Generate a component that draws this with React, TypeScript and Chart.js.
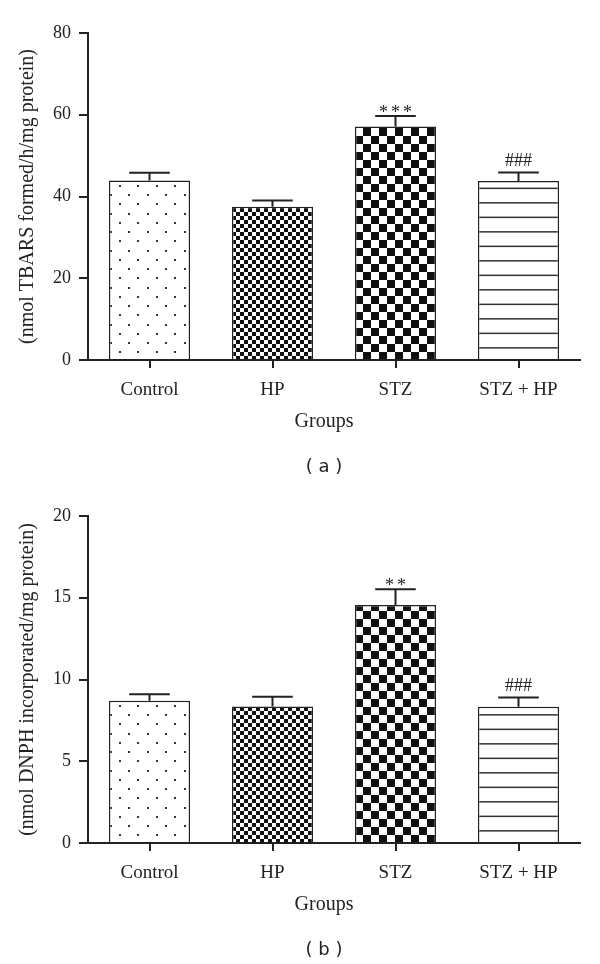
import React, { useEffect, useRef } from "react";
import { Chart, registerables } from "chart.js";

Chart.register(...registerables);

// ---------- data ----------
const groups = ["Control", "HP", "STZ", "STZ + HP"];

const tbarsMeans = [43.9, 37.5, 57.1, 43.8];
const tbarsErrors = [1.9, 1.5, 2.6, 2.1];
const tbarsMarks = ["", "", "***", "###"];
const tbarsMax = 80;
const tbarsStep = 20;

const dnphMeans = [8.7, 8.35, 14.55, 8.33];
const dnphErrors = [0.4, 0.6, 0.97, 0.57];
const dnphMarks = ["", "", "**", "###"];
const dnphMax = 20;
const dnphStep = 5;

// ---------- styles ----------
const SERIF = "'Liberation Serif', 'Times New Roman', serif";
const SANS = "'DejaVu Sans', Verdana, sans-serif";
const INK = "#222";
const patternKinds = ["dots", "fineCheck", "check", "hlines"];

function makeTile(kind: string): HTMLCanvasElement {
  const c = document.createElement("canvas");
  let w = 8,
    h = 8;
  if (kind === "dots") {
    w = 37;
    h = 37;
  } else if (kind === "fineCheck") {
    w = 8;
    h = 8;
  } else if (kind === "check") {
    w = 16;
    h = 16;
  } else if (kind === "hlines") {
    w = 4;
    h = 29;
  }
  c.width = w;
  c.height = h;
  const g = c.getContext("2d")!;
  g.fillStyle = "#fff";
  g.fillRect(0, 0, w, h);
  if (kind === "dots") {
    g.fillStyle = "#333";
    const pts = [
      [1, 1], [19, 1], [10, 10], [28, 10],
      [1, 19], [19, 19], [10, 28], [28, 28],
    ];
    pts.forEach(([x, y]) => g.fillRect(x, y, 2, 2));
  } else if (kind === "fineCheck") {
    g.fillStyle = "#111";
    g.fillRect(0, 0, 4, 4);
    g.fillRect(4, 4, 4, 4);
  } else if (kind === "check") {
    g.fillStyle = "#111";
    g.fillRect(0, 0, 8, 8);
    g.fillRect(8, 8, 8, 8);
  } else if (kind === "hlines") {
    g.fillStyle = "#333";
    g.fillRect(0, 1.6, w, 1.5);
    g.fillRect(0, 16.1, w, 1.5);
  }
  return c;
}

const patternAnchor = {
  id: "patternAnchor",
  beforeDatasetsDraw(chart: any) {
    const meta = chart.getDatasetMeta(0);
    const bg = chart.data.datasets[0].backgroundColor as any[];
    const bottom = chart.chartArea.bottom;
    meta.data.forEach((el: any, i: number) => {
      const p = bg[i];
      if (p && typeof p.setTransform === "function") {
        const left = Math.round(el.x - el.width / 2);
        p.setTransform(new DOMMatrix([1, 0, 0, 1, left, bottom]));
      }
    });
  },
};

const errorBars = {
  id: "errorBars",
  afterDatasetsDraw(chart: any) {
    const ctx = chart.ctx;
    const yScale = chart.scales.y;
    const ds = chart.data.datasets[0];
    const errs: number[] = ds.errors;
    const marks: string[] = ds.marks;
    const meta = chart.getDatasetMeta(0);
    ctx.save();
    meta.data.forEach((el: any, i: number) => {
      const v = ds.data[i] as number;
      const capY = yScale.getPixelForValue(v + errs[i]);
      const half = el.width / 4;
      ctx.strokeStyle = INK;
      ctx.lineWidth = 2;
      ctx.beginPath();
      ctx.moveTo(el.x, el.y);
      ctx.lineTo(el.x, capY);
      ctx.moveTo(el.x - half, capY);
      ctx.lineTo(el.x + half, capY);
      ctx.stroke();
      const m = marks[i];
      if (m) {
        ctx.fillStyle = INK;
        ctx.textAlign = "center";
        ctx.textBaseline = "alphabetic";
        if (m[0] === "*") {
          ctx.font = `18px ${SERIF}`;
          const n = m.length;
          for (let k = 0; k < n; k++) {
            ctx.fillText("*", el.x + (k - (n - 1) / 2) * 12, capY + 2);
          }
        } else {
          ctx.font = `18px ${SERIF}`;
          ctx.fillText(m, el.x, capY - 6);
        }
      }
    });
    ctx.restore();
  },
};

// x-axis title and panel caption, placed below the plot area
const captions = {
  id: "captions",
  afterDraw(chart: any, _args: any, opts: any) {
    const ctx = chart.ctx;
    const a = chart.chartArea;
    const cx = (a.left + a.right) / 2 - 10;
    ctx.save();
    ctx.fillStyle = INK;
    ctx.textAlign = "center";
    ctx.textBaseline = "alphabetic";
    ctx.font = `20px ${SERIF}`;
    ctx.fillText(opts.axisTitle, cx, a.bottom + 67);
    ctx.font = `18px ${SANS}`;
    ctx.textBaseline = "middle";
    ctx.fillText(opts.panel, cx, a.bottom + 107);
    ctx.restore();
  },
};

function buildConfig(
  ctx: CanvasRenderingContext2D,
  means: number[],
  errors: number[],
  marks: string[],
  yMax: number,
  yStep: number,
  yTitle: string,
  panel: string
): any {
  const patterns = patternKinds.map((k) => ctx.createPattern(makeTile(k), "repeat"));
  return {
    type: "bar",
    data: {
      labels: groups,
      datasets: [
        {
          data: means,
          errors,
          marks,
          backgroundColor: patterns,
          borderColor: INK,
          borderWidth: 1.5,
          categoryPercentage: 0.66,
          barPercentage: 1,
        },
      ],
    },
    options: {
      responsive: false,
      animation: false,
      devicePixelRatio: 1,
      layout: { padding: { top: 33, right: 20, bottom: 4, left: 0 } },
      plugins: {
        legend: { display: false },
        tooltip: { enabled: false },
        title: { display: false },
        captions: { axisTitle: "Groups", panel },
      },
      scales: {
        x: {
          offset: true,
          grid: {
            offset: false,
            drawOnChartArea: false,
            drawTicks: true,
            tickLength: 8,
            color: INK,
            lineWidth: 2,
          },
          border: { display: true, color: INK, width: 2 },
          ticks: {
            color: INK,
            font: { family: SERIF, size: 19 },
            padding: 11,
            maxRotation: 0,
            autoSkip: false,
          },
          title: { display: false },
          afterFit: (s: any) => {
            s.height = 118;
          },
        },
        y: {
          min: 0,
          max: yMax,
          grid: {
            drawOnChartArea: false,
            drawTicks: true,
            tickLength: 9,
            color: INK,
            lineWidth: 2,
          },
          border: { display: true, color: INK, width: 2 },
          ticks: {
            stepSize: yStep,
            color: INK,
            font: { family: SERIF, size: 18 },
            padding: 8,
          },
          title: {
            display: true,
            text: yTitle,
            color: INK,
            font: { family: SERIF, size: 20 },
            padding: { top: 16, bottom: 0 },
          },
          afterFit: (s: any) => {
            s.width = 88;
          },
        },
      },
    },
    plugins: [patternAnchor, errorBars, captions],
  };
}

function Panel(props: {
  top: number;
  means: number[];
  errors: number[];
  marks: string[];
  yMax: number;
  yStep: number;
  yTitle: string;
  panel: string;
}) {
  const ref = useRef<HTMLCanvasElement | null>(null);
  useEffect(() => {
    const canvas = ref.current!;
    const ctx = canvas.getContext("2d")!;
    const chart = new Chart(
      ctx,
      buildConfig(ctx, props.means, props.errors, props.marks, props.yMax, props.yStep, props.yTitle, props.panel)
    );
    return () => chart.destroy();
  }, []);
  return (
    <div style={{ position: "absolute", left: 0, top: props.top, width: 600, height: 482 }}>
      <canvas ref={ref} width={600} height={482} style={{ width: 600, height: 482, display: "block" }} />
    </div>
  );
}

export default function App() {
  return (
    <div style={{ position: "absolute", left: 0, top: 0, width: 600, height: 964, background: "#fff" }}>
      <Panel
        top={0}
        means={tbarsMeans}
        errors={tbarsErrors}
        marks={tbarsMarks}
        yMax={tbarsMax}
        yStep={tbarsStep}
        yTitle="(nmol TBARS formed/h/mg protein)"
        panel="( a )"
      />
      <Panel
        top={483}
        means={dnphMeans}
        errors={dnphErrors}
        marks={dnphMarks}
        yMax={dnphMax}
        yStep={dnphStep}
        yTitle="(nmol DNPH incorporated/mg protein)"
        panel="( b )"
      />
    </div>
  );
}
